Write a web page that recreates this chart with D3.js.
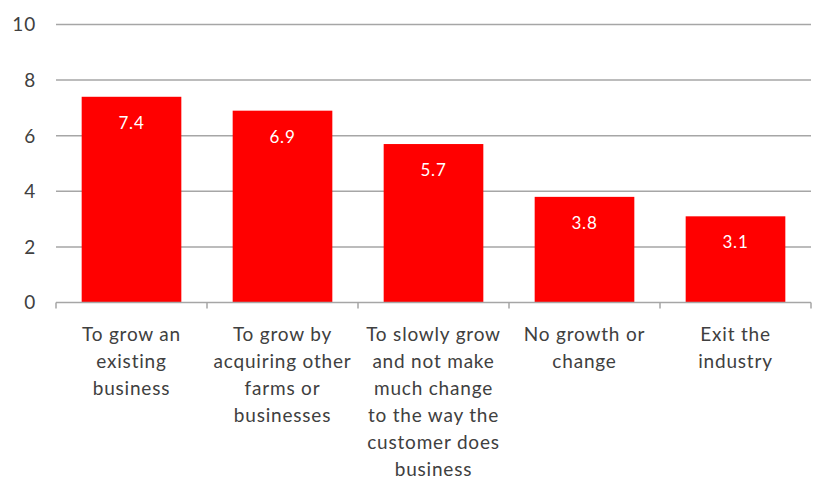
<!DOCTYPE html>
<html>
<head>
<meta charset="utf-8">
<script src="https://cdn.jsdelivr.net/npm/d3@7"></script>
<style>
  html, body { margin: 0; padding: 0; background: #fff; }
  svg { display: block; }
  text { font-family: Lato, "Open Sans", sans-serif; }
</style>
</head>
<body>
<svg id="chart" width="814" height="481"></svg>
<script>
// Category labels, pre-wrapped as they appear under each bar
const categories = [
  ["To grow an", "existing", "business"],
  ["To grow by", "acquiring other", "farms or", "businesses"],
  ["To slowly grow", "and not make", "much change", "to the way the", "customer does", "business"],
  ["No growth or", "change"],
  ["Exit the", "industry"]
];
const values = [7.4, 6.9, 5.7, 3.8, 3.1];
const yTicks = [0, 2, 4, 6, 8, 10];

const svg = d3.select("#chart");
const margin = { left: 56, right: 3, top: 24.5, bottom: 178.5 };
const W = 814, H = 481;

const x = d3.scaleBand()
  .domain(d3.range(categories.length))
  .range([margin.left, W - margin.right])
  .paddingInner(0.34)
  .paddingOuter(0.17);

const y = d3.scaleLinear()
  .domain([0, 10])
  .range([H - margin.bottom, margin.top]);

// Horizontal gridlines
svg.append("g")
  .selectAll("line")
  .data(yTicks.filter(d => d > 0))
  .join("line")
  .attr("x1", margin.left)
  .attr("x2", W - margin.right)
  .attr("y1", d => y(d))
  .attr("y2", d => y(d))
  .attr("stroke", "#a6a6a6")
  .attr("stroke-width", 1.5);

// Y axis tick labels
svg.append("g")
  .selectAll("text")
  .data(yTicks)
  .join("text")
  .attr("x", 36)
  .attr("y", d => y(d))
  .attr("dy", "0.36em")
  .attr("text-anchor", "end")
  .attr("font-size", 19)
  .attr("letter-spacing", 0.8)
  .attr("fill", "#404040")
  .text(d => d);

// Bars
svg.append("g")
  .selectAll("rect")
  .data(values)
  .join("rect")
  .attr("x", (d, i) => x(i))
  .attr("width", x.bandwidth())
  .attr("y", d => y(d))
  .attr("height", d => y(0) - y(d))
  .attr("fill", "#ff0000");

// Value labels inside bars
svg.append("g")
  .selectAll("text")
  .data(values)
  .join("text")
  .attr("x", (d, i) => x(i) + x.bandwidth() / 2)
  .attr("y", d => y(d) + 32)
  .attr("text-anchor", "middle")
  .attr("font-size", 17)
  .attr("letter-spacing", 0.8)
  .attr("fill", "#ffffff")
  .text(d => d.toFixed(1));

// X axis baseline with category tick marks
const step = x.step();
const axisG = svg.append("g");
axisG.append("line")
  .attr("x1", margin.left)
  .attr("x2", W - margin.right)
  .attr("y1", y(0))
  .attr("y2", y(0))
  .attr("stroke", "#a6a6a6")
  .attr("stroke-width", 1.5);
axisG.selectAll("line.tick")
  .data(d3.range(categories.length + 1))
  .join("line")
  .attr("class", "tick")
  .attr("x1", i => margin.left + i * step)
  .attr("x2", i => margin.left + i * step)
  .attr("y1", y(0))
  .attr("y2", y(0) + 6)
  .attr("stroke", "#a6a6a6")
  .attr("stroke-width", 1.5);

// Category labels
const labels = svg.append("g")
  .selectAll("text")
  .data(categories)
  .join("text")
  .attr("x", (d, i) => x(i) + x.bandwidth() / 2)
  .attr("y", y(0) + 38.5)
  .attr("text-anchor", "middle")
  .attr("font-size", 19)
  .attr("letter-spacing", 0.8)
  .attr("fill", "#404040");
labels.selectAll("tspan")
  .data(d => d)
  .join("tspan")
  .attr("x", function() { return d3.select(this.parentNode).attr("x"); })
  .attr("dy", (d, i) => i === 0 ? 0 : 27)
  .text(d => d);
</script>
</body>
</html>
